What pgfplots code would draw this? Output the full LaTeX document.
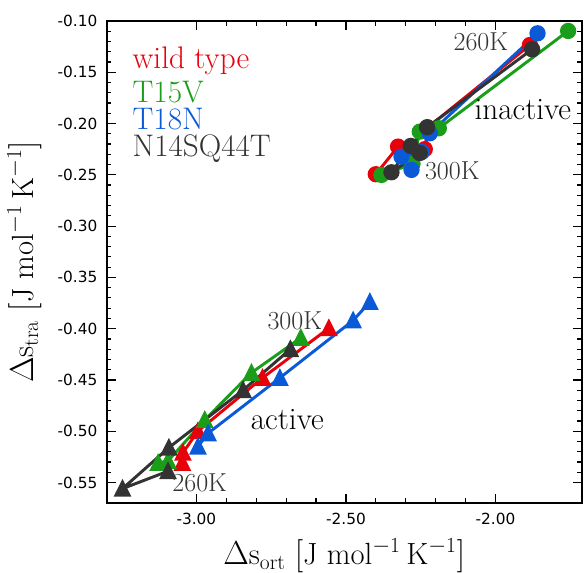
\documentclass[border=0pt]{standalone}
\usepackage{fontspec}
\usepackage{pgfplots}
\pgfplotsset{compat=1.18}
\newfontfamily\tickfont{DejaVu Sans}

\definecolor{cwt}{HTML}{E8000B}
\definecolor{ctv}{HTML}{1A9E1A}
\definecolor{ctn}{HTML}{0A5AD8}
\definecolor{cnq}{HTML}{333333}

% matplotlib-like triangle (width = height)
\pgfdeclareplotmark{mtri}{%
  \pgfpathmoveto{\pgfqpoint{0pt}{\pgfplotmarksize}}%
  \pgfpathlineto{\pgfqpoint{-\pgfplotmarksize}{-\pgfplotmarksize}}%
  \pgfpathlineto{\pgfqpoint{\pgfplotmarksize}{-\pgfplotmarksize}}%
  \pgfpathclose
  \pgfusepathqfillstroke}

\begin{document}
\begin{tikzpicture}
\begin{axis}[
  scale only axis,
  width=356.25pt, height=361.5pt,
  xmin=-3.30, xmax=-1.712,
  ymin=-0.57, ymax=-0.10,
  xtick={-3,-2.5,-2},
  ytick={-0.55,-0.50,-0.45,-0.40,-0.35,-0.30,-0.25,-0.20,-0.15,-0.10},
  minor x tick num=4,
  minor y tick num=4,
  tick align=inside,
  major tick length=6.75pt,
  minor tick length=3.4pt,
  every tick/.style={black, line width=0.9pt},
  axis line style={line width=1.3pt},
  /pgf/number format/.cd, fixed, fixed zerofill, precision=2, assume math mode=true,
  /pgfplots/.cd,
  ticklabel style={font=\tickfont\fontsize{11.5}{13}\selectfont},
  yticklabel style={xshift=-3.5pt},
  xticklabel style={yshift=-3.7pt},
  xlabel={$\Delta\mathrm{s}_{\mathrm{ort}}\ [\mathrm{J\ mol^{-1}\,K^{-1}}]$},
  ylabel={$\Delta\mathrm{s}_{\mathrm{tra}}\ [\mathrm{J\ mol^{-1}\,K^{-1}}]$},
  label style={font=\fontsize{23}{26}\selectfont},
  xlabel style={at={(axis description cs:0.5,-0.1286)}, anchor=base},
  ylabel style={at={(axis description cs:-0.155,0.5)}, anchor=base},
  every axis plot/.append style={line width=2.2pt},
]
% inactive (circles), 260K -> 300K
\addplot[cwt, mark=*, mark size=5pt] coordinates {
  (-1.885,-0.1234) (-2.2264,-0.2038) (-2.2365,-0.2250) (-2.3258,-0.2225) (-2.4003,-0.2494)};
\addplot[ctv, mark=*, mark size=5pt] coordinates {
  (-1.7572,-0.1097) (-2.1896,-0.2046) (-2.2532,-0.2079) (-2.2776,-0.2394) (-2.3813,-0.2501)};
\addplot[ctn, mark=*, mark size=5pt] coordinates {
  (-1.8595,-0.1120) (-2.2197,-0.2095) (-2.2465,-0.2277) (-2.3144,-0.2323) (-2.2809,-0.2452)};
\addplot[cnq, mark=*, mark size=5pt] coordinates {
  (-1.8776,-0.1276) (-2.2288,-0.2036) (-2.2833,-0.2218) (-2.3478,-0.2475) (-2.2532,-0.2287)};
% active (triangles), 300K -> 260K
\addplot[cwt, mark=mtri, mark size=4.9pt] coordinates {
  (-2.557,-0.3995) (-2.779,-0.448) (-2.995,-0.500) (-3.045,-0.521) (-3.047,-0.531)};
\addplot[ctv, mark=mtri, mark size=4.9pt] coordinates {
  (-2.651,-0.409) (-2.816,-0.443) (-2.972,-0.489) (-3.095,-0.529) (-3.128,-0.531)};
\addplot[ctn, mark=mtri, mark size=4.9pt] coordinates {
  (-2.420,-0.374) (-2.476,-0.392) (-2.721,-0.448) (-2.961,-0.502) (-2.995,-0.515)};
\addplot[cnq, mark=mtri, mark size=4.9pt] coordinates {
  (-2.686,-0.420) (-2.844,-0.460) (-3.092,-0.516) (-3.247,-0.556) (-3.095,-0.539)};

% annotations
\node[cnq, font=\fontsize{19.5}{22}\selectfont] at (axis cs:-2.049,-0.1205) {260K};
\node[cnq, font=\fontsize{19.5}{22}\selectfont] at (axis cs:-2.1445,-0.2462) {300K};
\node[cnq, font=\fontsize{19.5}{22}\selectfont] at (axis cs:-2.671,-0.3919) {300K};
\node[cnq, font=\fontsize{19.5}{22}\selectfont] at (axis cs:-2.989,-0.5506) {260K};
\node[black, font=\fontsize{23.4}{26}\selectfont, anchor=base] at (axis cs:-1.9087,-0.1965) {inactive};
\node[black, font=\fontsize{23.4}{26}\selectfont, anchor=base] at (axis cs:-2.696,-0.4986) {active};

% coloured legend text
\node[cwt, font=\fontsize{23.4}{26}\selectfont, anchor=base west, inner sep=0pt] at (axis cs:-3.214,-0.1468) {wild type};
\node[ctv, font=\fontsize{23.4}{26}\selectfont, anchor=base west, inner sep=0pt] at (axis cs:-3.214,-0.1799) {T15V};
\node[ctn, font=\fontsize{23.4}{26}\selectfont, anchor=base west, inner sep=0pt] at (axis cs:-3.214,-0.2062) {T18N};
\node[cnq, font=\fontsize{23.4}{26}\selectfont, anchor=base west, inner sep=0pt] at (axis cs:-3.214,-0.2323) {N14SQ44T};
\end{axis}
\pgfresetboundingbox
\path ([shift={(-80pt,-52.5pt)}]current axis.south west) rectangle ([shift={(3.25pt,15.75pt)}]current axis.north east);
\end{tikzpicture}
\end{document}
